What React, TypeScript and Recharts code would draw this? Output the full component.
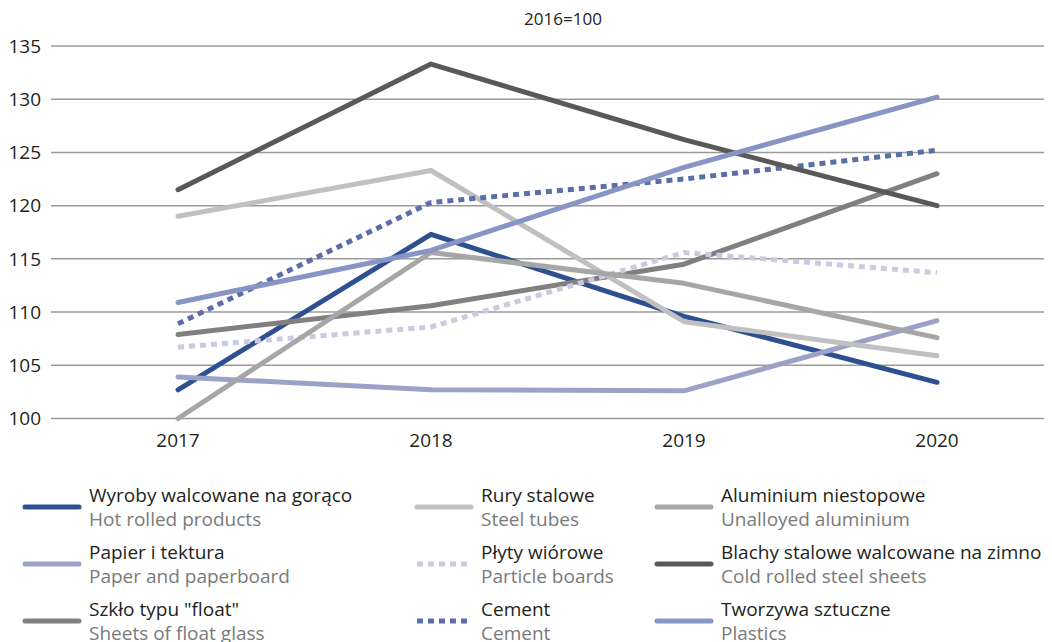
import React from "react";
import { LineChart, Line, XAxis, YAxis, CartesianGrid } from "recharts";

const years = ["2017", "2018", "2019", "2020"];
const hotRolled = [102.7, 117.3, 109.6, 103.4];
const paper = [103.9, 102.7, 102.6, 109.2];
const floatGlass = [107.9, 110.6, 114.5, 123.0];
const steelTubes = [119.0, 123.3, 109.1, 105.9];
const particleBoards = [106.7, 108.6, 115.6, 113.7];
const cement = [108.9, 120.3, 122.5, 125.2];
const aluminium = [100.0, 115.6, 112.7, 107.6];
const coldRolled = [121.5, 133.3, 126.2, 120.0];
const plastics = [110.9, 115.8, 123.6, 130.2];
const yTicks = [100, 105, 110, 115, 120, 125, 130, 135];

const series = [
  { key: "hotRolled", pl: "Wyroby walcowane na gorąco", en: "Hot rolled products", color: "#2e5090", dash: false, values: hotRolled },
  { key: "paper", pl: "Papier i tektura", en: "Paper and paperboard", color: "#9aa2c8", dash: false, values: paper },
  { key: "floatGlass", pl: "Szkło typu \"float\"", en: "Sheets of float glass", color: "#808080", dash: false, values: floatGlass },
  { key: "steelTubes", pl: "Rury stalowe", en: "Steel tubes", color: "#c0c0c0", dash: false, values: steelTubes },
  { key: "particleBoards", pl: "Płyty wiórowe", en: "Particle boards", color: "#c9cbe0", dash: true, values: particleBoards },
  { key: "cement", pl: "Cement", en: "Cement", color: "#5a6ea8", dash: true, values: cement },
  { key: "aluminium", pl: "Aluminium niestopowe", en: "Unalloyed aluminium", color: "#a6a6a6", dash: false, values: aluminium },
  { key: "coldRolled", pl: "Blachy stalowe walcowane na zimno", en: "Cold rolled steel sheets", color: "#595959", dash: false, values: coldRolled },
  { key: "plastics", pl: "Tworzywa sztuczne", en: "Plastics", color: "#8794c4", dash: false, values: plastics },
];

const data = years.map((y, i) => {
  const row: Record<string, any> = { year: y };
  series.forEach((s) => (row[s.key] = s.values[i]));
  return row;
});

const FONT = "'Open Sans', sans-serif";

const colX = [[23, 89], [415, 481], [655, 721]];
const rowY = [483, 540, 597];

const LegendBlock = () => (
  <div style={{ position: "absolute", left: 0, top: 0, width: 1052, height: 642, fontFamily: FONT, pointerEvents: "none" }}>
    {series.map((s, i) => {
      const col = Math.floor(i / 3);
      const row = i % 3;
      const [lx, tx] = colX[col];
      const top = rowY[row];
      return (
        <div key={s.key}>
          <svg style={{ position: "absolute", left: lx, top: top + 20, overflow: "visible" }} width={60} height={8}>
            <line x1={2} y1={4} x2={56} y2={4} stroke={s.color} strokeWidth={5}
              strokeLinecap={s.dash ? "butt" : "round"} strokeDasharray={s.dash ? "6 5" : undefined} />
          </svg>
          <div style={{ position: "absolute", left: tx, top: top, fontSize: 19, lineHeight: "24px", color: "#231f20", whiteSpace: "nowrap" }}>
            {s.pl}
          </div>
          <div style={{ position: "absolute", left: tx, top: top + 24, fontSize: 19, lineHeight: "24px", color: "#7a7a7a", whiteSpace: "nowrap" }}>
            {s.en}
          </div>
        </div>
      );
    })}
  </div>
);

export default function App() {
  return (
    <div style={{ marginLeft: -8, marginTop: -8, width: 1052, height: 642, position: "relative", background: "#fff", overflow: "hidden" }}>
      <div style={{ position: "absolute", top: 7, left: 0, width: 1126, textAlign: "center", fontFamily: FONT, fontSize: 17, color: "#231f20" }}>
        2016=100
      </div>
      <LineChart width={1052} height={642} data={data} margin={{ top: 46, right: 0, left: 0, bottom: 183.5 }}>
        <CartesianGrid vertical={false} stroke="#9a9a9a" strokeWidth={1.5} />
        <XAxis dataKey="year" axisLine={false} tickLine={false} tickSize={0} tickMargin={15} height={40}
          padding={{ left: 127, right: 115 }} interval={0}
          tick={{ fontFamily: FONT, fontSize: 19, fill: "#231f20" }} />
        <YAxis domain={[100, 135]} ticks={yTicks} width={51} axisLine={false} tickLine={false} tickSize={0} tickMargin={10}
          tick={{ fontFamily: FONT, fontSize: 19, fill: "#231f20" }} />
        {series.map((s) => (
          <Line key={s.key} dataKey={s.key} stroke={s.color} strokeWidth={5} dot={false} activeDot={false}
            strokeDasharray={s.dash ? "6 5" : undefined} strokeLinecap={s.dash ? "butt" : "round"} strokeLinejoin="round"
            isAnimationActive={false} />
        ))}
      </LineChart>
      <LegendBlock />
    </div>
  );
}
